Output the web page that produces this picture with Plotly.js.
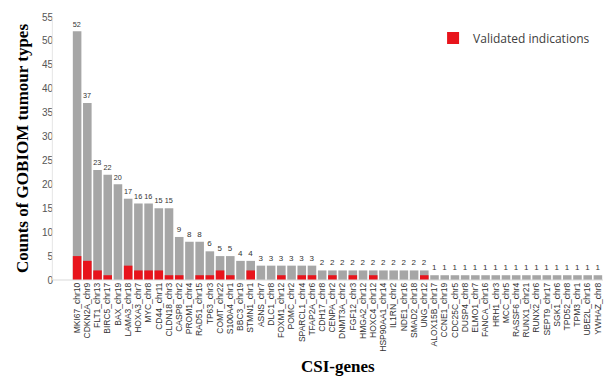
<!DOCTYPE html>
<html><head><meta charset="utf-8">
<script src="https://cdn.plot.ly/plotly-3.0.1.min.js"></script>
<style>html,body{margin:0;padding:0;background:#fff}#chart{width:614px;height:379px}</style>
</head><body><div id="chart"></div>
<script>
const genes = ["MKI67_chr10","CDKN2A_chr9","FLT1_chr13","BIRC5_chr17","BAX_chr19","LAMA3_chr18","HOXA3_chr7","MYC_chr8","CD44_chr11","CLDN18_chr3","CASP8_chr2","PROM1_chr4","RAD51_chr15","TP63_chr3","COMT_chr22","S100A4_chr1","BBC3_chr19","STMN1_chr1","ASNS_chr7","DLC1_chr8","FOXM1_chr12","POMC_chr2","SPARCL1_chr4","TFAP2A_chr6","CDH17_chr8","CENPA_chr2","DNMT3A_chr2","FGF12_chr3","HMGA2_chr12","HOXC4_chr12","HSP90AA1_chr14","IL1RN_chr2","NDE1_chr16","SMAD2_chr18","UNG_chr12","ALOX15B_chr17","CCNE1_chr19","CDC25C_chr5","DUSP4_chr8","ELMO1_chr7","FANCA_chr16","HRH1_chr3","MCC_chr5","RASSF6_chr4","RUNX1_chr21","RUNX2_chr6","SEPT9_chr17","SGK1_chr6","TPD52_chr8","TPM3_chr1","UBE2L_chr16","YWHAZ_chr8"];
const tumourCounts = [52,37,23,22,20,17,16,16,15,15,9,8,8,6,5,5,4,4,3,3,3,3,3,3,2,2,2,2,2,2,2,2,2,2,2,1,1,1,1,1,1,1,1,1,1,1,1,1,1,1,1,1];
const validated = [5,4,2,1,0,3,2,2,2,1,1,0,1,1,2,1,0,2,0,0,1,0,1,1,0,1,0,1,0,1,0,0,0,0,1,0,0,0,0,0,0,0,0,0,0,0,0,0,0,0,0,0];
const yTicks = [0,5,10,15,20,25,30,35,40,45,50,55];
const xTitle = 'CSI-genes';
const yTitle = 'Counts of GOBIOM tumour types';

const traces = [
  {type:'bar', x:genes, y:tumourCounts, marker:{color:'#a6a6a6'}, showlegend:false,
   text:tumourCounts.map(String), textposition:'outside', cliponaxis:false,
   outsidetextfont:{family:'Liberation Sans, Arial', size:8, color:'#333333'},
   textfont:{family:'Liberation Sans, Arial', size:8, color:'#333333'}, hoverinfo:'x+y'},
  {type:'bar', x:genes, y:validated, name:'Validated indications', marker:{color:'#e8141c'}}
];
const layout = {
  width:614, height:379,
  margin:{l:72, r:11, t:17, b:99},
  barmode:'overlay', bargap:0.16,
  paper_bgcolor:'#fff', plot_bgcolor:'#fff',
  font:{family:'Liberation Sans, Arial', color:'#404040'},
  xaxis:{type:'category', tickmode:'array', tickvals:genes, ticktext:genes, tickangle:-90,
         tickfont:{size:8.5, color:'#333'}, ticks:'', showgrid:false,
         showline:false, zeroline:false, automargin:false},
  yaxis:{range:[0,55], tickvals:yTicks, tickfont:{size:10, color:'#555'}, showgrid:false, zeroline:false,
         showline:false, ticks:'', ticklabelstandoff:18, automargin:false,
         title:{text:yTitle, font:{family:'Liberation Serif, Times New Roman', size:17, color:'#000', weight:'bold'}, standoff:8}},
  legend:{x:0.68, y:0.975, xanchor:'left', yanchor:'top', bgcolor:'rgba(0,0,0,0)',
          font:{family:'Open Sans, Liberation Sans', size:12, color:'#404040'}},
  annotations:[
    {text:'<b>'+xTitle+'</b>', xref:'paper', yref:'paper', x:0.5, y:-0.33, xanchor:'center', yanchor:'middle',
     showarrow:false, font:{family:'Liberation Serif, Times New Roman', size:17, color:'#000'}}
  ],
  shapes:[
    {type:'line', xref:'paper', yref:'paper', x0:-0.037, x1:1, y0:0, y1:0, line:{color:'#d9d9d9', width:1}},
    {type:'line', xref:'paper', yref:'paper', x0:-0.037, x1:-0.037, y0:0, y1:1, line:{color:'#e6e6e6', width:1}}
  ]
};
Plotly.newPlot('chart', traces, layout, {displayModeBar:false, staticPlot:true});
</script></body></html>
